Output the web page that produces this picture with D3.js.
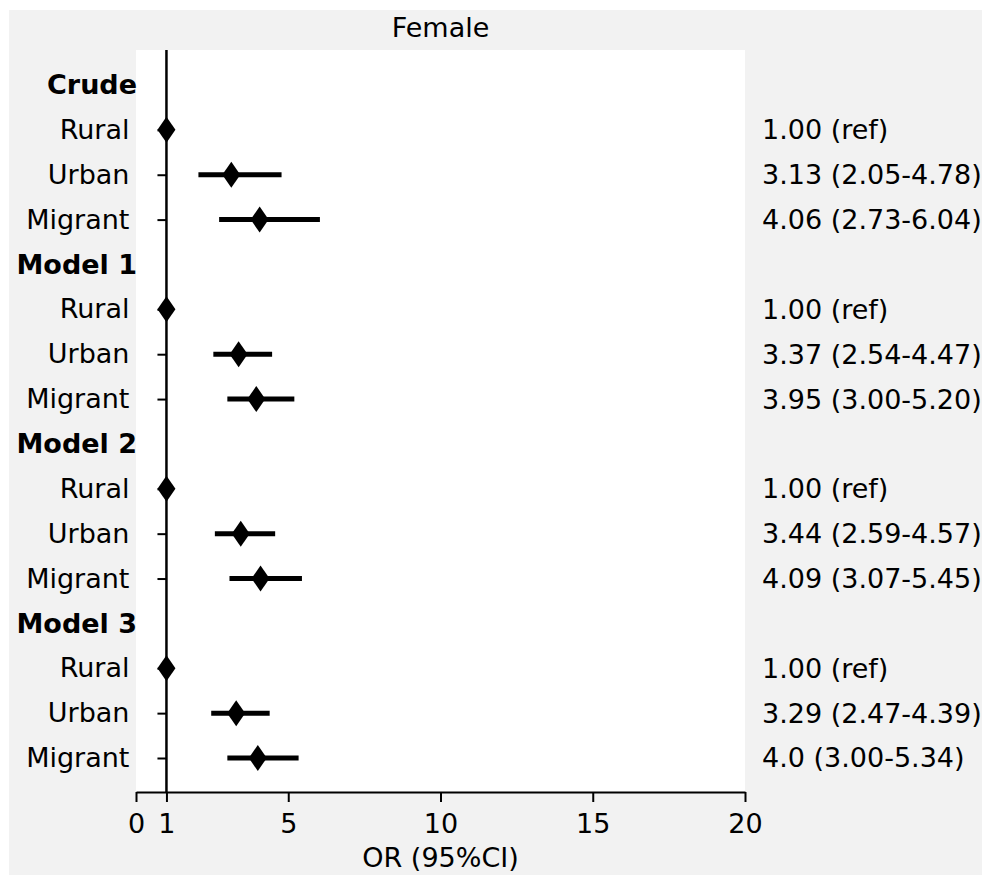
<!DOCTYPE html>
<html>
<head>
<meta charset="utf-8">
<script src="https://cdn.jsdelivr.net/npm/d3@7"></script>
<style>
  body { margin: 0; background: #fff; }
  text { font-family: "DejaVu Sans", sans-serif; }
</style>
</head>
<body>
<div id="chart"></div>
<script>
const groups = ["Crude", "Model 1", "Model 2", "Model 3"];
const categories = ["Rural", "Urban", "Migrant"];
const orValues = [[1.00, 3.13, 4.06], [1.00, 3.37, 3.95], [1.00, 3.44, 4.09], [1.00, 3.29, 4.0]];
const ciLow = [[null, 2.05, 2.73], [null, 2.54, 3.00], [null, 2.59, 3.07], [null, 2.47, 3.00]];
const ciHigh = [[null, 4.78, 6.04], [null, 4.47, 5.20], [null, 4.57, 5.45], [null, 4.39, 5.34]];
const orLabels = [
  ["1.00 (ref)", "3.13 (2.05-4.78)", "4.06 (2.73-6.04)"],
  ["1.00 (ref)", "3.37 (2.54-4.47)", "3.95 (3.00-5.20)"],
  ["1.00 (ref)", "3.44 (2.59-4.57)", "4.09 (3.07-5.45)"],
  ["1.00 (ref)", "3.29 (2.47-4.39)", "4.0 (3.00-5.34)"]
];
const xTicks = [0, 1, 5, 10, 15, 20];

const w = 982, h = 875;
const fs = 27;

// build row list: header then its categories
const rows = [];
const points = [];
groups.forEach((g, gi) => {
  rows.push(g);
  categories.forEach((c, ci) => {
    const key = g + "|" + c;
    rows.push(key);
    points.push({key: key, cat: c, or: orValues[gi][ci], lo: ciLow[gi][ci], hi: ciHigh[gi][ci], label: orLabels[gi][ci]});
  });
});

const svg = d3.select("#chart").append("svg")
  .attr("width", w)
  .attr("height", h);

svg.append("rect")
  .attr("x", 9).attr("y", 10)
  .attr("width", w - 9).attr("height", h - 10)
  .attr("fill", "#f2f2f2");

const xScale = d3.scaleLinear().domain([0, 20]).range([136, 745]);
const yScale = d3.scalePoint().domain(rows).range([85, 758]);
const plotTop = 50, plotBottom = 792;

svg.append("rect")
  .attr("x", xScale(0)).attr("y", plotTop)
  .attr("width", xScale(20) - xScale(0)).attr("height", plotBottom - plotTop)
  .attr("fill", "#fff");

// title
svg.append("text")
  .attr("x", (xScale(0) + xScale(20)) / 2)
  .attr("y", 37)
  .attr("text-anchor", "middle")
  .style("font-size", fs + "px")
  .text("Female");

// y axis at OR = 1
const yAxis = d3.axisLeft(yScale)
  .tickValues(points.map(d => d.key))
  .tickFormat(k => k.split("|")[1])
  .tickSize(9)
  .tickPadding(28);

const gy = svg.append("g")
  .attr("transform", "translate(" + xScale(1) + ",0)")
  .call(yAxis);
gy.select(".domain").remove();
gy.selectAll(".tick line").attr("stroke-width", 2);
gy.selectAll(".tick text").style("font-size", fs + "px").style("font-family", "DejaVu Sans");

svg.append("line")
  .attr("x1", xScale(1)).attr("x2", xScale(1))
  .attr("y1", plotTop).attr("y2", plotBottom)
  .attr("stroke", "#000").attr("stroke-width", 2.5);

// group headers
svg.selectAll(".header")
  .data(groups)
  .enter()
  .append("text")
  .attr("class", "header")
  .attr("x", xScale(0) + 1)
  .attr("y", d => yScale(d))
  .attr("dy", "0.35em")
  .attr("text-anchor", "end")
  .style("font-size", fs + "px")
  .style("font-weight", "bold")
  .text(d => d);

// x axis
const xAxis = d3.axisBottom(xScale)
  .tickValues(xTicks)
  .tickSize(10)
  .tickSizeOuter(0)
  .tickPadding(12);

const gx = svg.append("g")
  .attr("transform", "translate(0," + plotBottom + ")")
  .call(xAxis);
gx.select(".domain").attr("stroke-width", 2);
gx.selectAll(".tick line").attr("stroke-width", 2);
gx.selectAll(".tick text").style("font-size", fs + "px").style("font-family", "DejaVu Sans");

svg.append("text")
  .attr("x", (xScale(0) + xScale(20)) / 2)
  .attr("y", 867)
  .attr("text-anchor", "middle")
  .style("font-size", fs + "px")
  .text("OR (95%CI)");

// error bars
svg.selectAll(".ci")
  .data(points.filter(d => d.lo !== null))
  .enter()
  .append("line")
  .attr("class", "ci")
  .attr("x1", d => xScale(d.lo))
  .attr("x2", d => xScale(d.hi))
  .attr("y1", d => yScale(d.key))
  .attr("y2", d => yScale(d.key))
  .attr("stroke", "#000")
  .attr("stroke-width", 5);

// diamonds
const dw = 9, dh = 13;
svg.selectAll(".pt")
  .data(points)
  .enter()
  .append("path")
  .attr("class", "pt")
  .attr("d", d => {
    const cx = xScale(d.or), cy = yScale(d.key);
    return "M" + cx + "," + (cy - dh) + "L" + (cx + dw) + "," + cy + "L" + cx + "," + (cy + dh) + "L" + (cx - dw) + "," + cy + "Z";
  })
  .attr("fill", "#000");

// OR text on right
svg.selectAll(".orlab")
  .data(points)
  .enter()
  .append("text")
  .attr("class", "orlab")
  .attr("x", 762)
  .attr("y", d => yScale(d.key))
  .attr("dy", "0.35em")
  .style("font-size", fs + "px")
  .text(d => d.label);
</script>
</body>
</html>
